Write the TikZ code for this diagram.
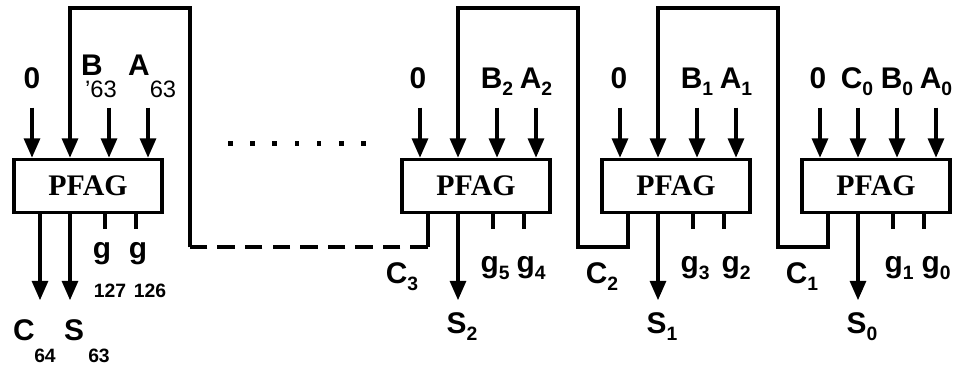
\documentclass[tikz,border=0pt]{standalone}
\usepackage{fontspec}
\setmainfont{Liberation Sans}
\newfontfamily\pfagfont{Liberation Serif}
\usepackage{tikz}
\usetikzlibrary{arrows.meta,positioning,calc}
\newcommand{\lsub}[1]{\raisebox{-4pt}{\fontsize{11}{11}\selectfont #1}}

\begin{document}
\begin{tikzpicture}[x=0.02cm,y=-0.02cm,line width=2pt,
    pfag/.style={draw,minimum width=2.96cm,minimum height=1.06cm,inner sep=0pt,font=\pfagfont\bfseries\fontsize{17}{17}\selectfont},
    sig/.style={-{Triangle[width=9pt,length=11pt]}},
    lbl/.style={anchor=base,inner sep=0pt,font=\bfseries\fontsize{17}{17}\selectfont},
    idx/.style={anchor=base,inner sep=0pt,font=\bfseries\fontsize{11}{11}\selectfont},
    bigidx/.style={anchor=base,inner sep=0pt,font=\fontsize{13.5}{13.5}\selectfont}]
    \useasboundingbox (0,0) rectangle (961,372);
    \node[pfag] (pfag63) at (88,186) {PFAG};
    \node[pfag] (pfag2) at (476,186) {PFAG};
    \node[pfag] (pfag1) at (676,186) {PFAG};
    \node[pfag] (pfag0) at (876,186) {PFAG};
    \foreach \b in {pfag63,pfag2,pfag1,pfag0} {
        \foreach \o in {-56,21,60}
            \draw[sig] ($(\b.north)+(\o,-50)$) -- ($(\b.north)+(\o,0)$);
        \draw ($(\b.south)+(17,0)$) -- ++(0,15);
        \draw ($(\b.south)+(48,0)$) -- ++(0,15);
    }
    \draw[sig] ($(pfag0.north)+(-18,-50)$) -- ($(pfag0.north)+(-18,0)$);
    \foreach \b in {pfag2,pfag1,pfag0}
        \draw[sig] ($(\b.south)+(-18,0)$) -- ++(0,86);
    \draw[sig] ($(pfag63.south)+(-48,0)$) -- ++(0,86);
    \draw[sig] ($(pfag63.south)+(-18,0)$) -- ++(0,86);
    \coordinate (c1) at ($(pfag0.south)+(-48,0)$);
    \coordinate (c2) at ($(pfag1.south)+(-48,0)$);
    \coordinate (c3) at ($(pfag2.south)+(-48,0)$);
    \coordinate (turn63) at (190,8);
    \draw[sig] (c1) -- ++(0,33) -| (778,8) -| ($(pfag1.north)+(-18,0)$);
    \draw[sig] (c2) -- ++(0,33) -| (578,8) -| ($(pfag2.north)+(-18,0)$);
    \draw (c3) -- ++(0,33) coordinate (c3b);
    \draw[dash pattern=on 10pt off 5.7pt] (c3b) -- (c3b -| turn63);
    \draw[sig] (c3b -| turn63) -- (turn63) -| ($(pfag63.north)+(-18,0)$);
    \foreach \i in {0,...,6}
        \fill (228+\i*22.2,141) rectangle ++(4.5,4.5);
    \node[lbl] (z63) at (32,88) {0};
    \node[lbl] (b63) at (92,75) {B};
    \node[bigidx] (b63i) at (101,97) {'63};
    \node[lbl] (a63) at (139,75) {A};
    \node[bigidx] (a63i) at (163,97) {63};
    \node[lbl] (g127) at (102,258) {g};
    \node[lbl] (g126) at (138,258) {g};
    \node[idx] (g127i) at (110,297) {127};
    \node[idx] (g126i) at (150,297) {126};
    \node[lbl] (c64) at (24,340) {C};
    \node[idx] (c64i) at (45,362) {64};
    \node[lbl] (s63) at (74,340) {S};
    \node[idx] (s63i) at (99,362) {63};
    \node[lbl] (z2) at (418,88) {0};
    \node[lbl] (b2) at (497,88) {B\lsub{2}};
    \node[lbl] (a2) at (536,88) {A\lsub{2}};
    \node[lbl] (z1) at (619,88) {0};
    \node[lbl] (b1) at (697,88) {B\lsub{1}};
    \node[lbl] (a1) at (736,88) {A\lsub{1}};
    \node[lbl] (z0) at (818,88) {0};
    \node[lbl] (c0) at (857,88) {C\lsub{0}};
    \node[lbl] (b0) at (897,88) {B\lsub{0}};
    \node[lbl] (a0) at (936,88) {A\lsub{0}};
    \node[lbl] (c3l) at (402,283) {C\lsub{3}};
    \node[lbl] (c2l) at (602,283) {C\lsub{2}};
    \node[lbl] (c1l) at (802,283) {C\lsub{1}};
    \node[lbl] (s2) at (462,333) {S\lsub{2}};
    \node[lbl] (s1) at (662,333) {S\lsub{1}};
    \node[lbl] (s0) at (862,333) {S\lsub{0}};
    \node[lbl] (g5) at (495,272) {g\lsub{5}};
    \node[lbl] (g4) at (531,272) {g\lsub{4}};
    \node[lbl] (g3) at (695,272) {g\lsub{3}};
    \node[lbl] (g2) at (736,272) {g\lsub{2}};
    \node[lbl] (g1) at (899,272) {g\lsub{1}};
    \node[lbl] (g0) at (936,272) {g\lsub{0}};
\end{tikzpicture}
\end{document}
